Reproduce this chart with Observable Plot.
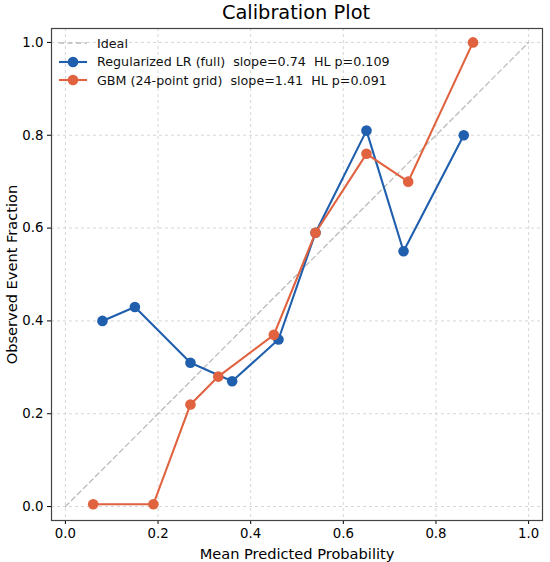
<!DOCTYPE html>
<html>
<head>
<meta charset="utf-8">
<script src="https://cdn.jsdelivr.net/npm/d3@7"></script>
<script src="https://cdn.jsdelivr.net/npm/@observablehq/plot@0.6"></script>
<style>
  html, body { margin: 0; padding: 0; background: #fff; }
  body { width: 550px; height: 562px; position: relative; font-family: "DejaVu Sans", sans-serif; overflow: hidden; }
  #title { position: absolute; left: 0; top: 1px; width: 550px; padding-left: 42px; box-sizing: border-box; text-align: center; font-size: 19.4px; color: #000; }
  #chart { position: absolute; left: 0; top: 22px; }
  #legend { position: absolute; left: 58px; top: 34px; font-size: 12.7px; color: #111; }
  .row { display: flex; align-items: center; height: 18.5px; }
  .row svg { margin-right: 9px; }
</style>
</head>
<body>
<div id="title">Calibration Plot</div>
<div id="chart"></div>
<div id="legend"></div>
<script>
const lrPred = [0.08, 0.15, 0.27, 0.36, 0.46, 0.54, 0.65, 0.73, 0.86];
const lrObs  = [0.40, 0.43, 0.31, 0.27, 0.36, 0.59, 0.81, 0.55, 0.80];
const gbmPred = [0.06, 0.19, 0.27, 0.33, 0.45, 0.54, 0.65, 0.74, 0.88];
const gbmObs  = [0.005, 0.005, 0.22, 0.28, 0.37, 0.59, 0.76, 0.70, 1.00];
const idealPts = [0, 1];
const ticks = [0, 0.2, 0.4, 0.6, 0.8, 1.0];
const seriesNames = ["Regularized LR (full)  slope=0.74  HL p=0.109", "GBM (24-point grid)  slope=1.41  HL p=0.091"];
const colors = ["#1f5fad", "#e0623f"];

const lr = lrPred.map((x, i) => ({x, y: lrObs[i]}));
const gbm = gbmPred.map((x, i) => ({x, y: gbmObs[i]}));
const ideal = idealPts.map(v => ({x: v, y: v}));

const chart = Plot.plot({
  width: 550,
  height: 540,
  marginLeft: 51,
  marginRight: 8,
  marginTop: 6,
  marginBottom: 42,
  style: {fontFamily: "DejaVu Sans, sans-serif", fontSize: "13px", color: "#000", background: "white"},
  x: {domain: [-0.03, 1.03]},
  y: {domain: [-0.03, 1.03]},
  marks: [
    Plot.gridX(ticks, {stroke: "#ccc", strokeOpacity: 1, strokeDasharray: "3,3", strokeWidth: 0.8}),
    Plot.gridY(ticks, {stroke: "#ccc", strokeOpacity: 1, strokeDasharray: "3,3", strokeWidth: 0.8}),
    Plot.line(ideal, {x: "x", y: "y", stroke: "#bbb", strokeWidth: 1.3, strokeDasharray: "5,3.5"}),
    Plot.line(lr, {x: "x", y: "y", stroke: colors[0], strokeWidth: 2.1}),
    Plot.dot(lr, {x: "x", y: "y", r: 5.3, fill: colors[0]}),
    Plot.line(gbm, {x: "x", y: "y", stroke: colors[1], strokeWidth: 2.1}),
    Plot.dot(gbm, {x: "x", y: "y", r: 5.3, fill: colors[1]}),
    Plot.axisX(ticks, {tickSize: 4, tickFormat: d3.format(".1f"), label: "Mean Predicted Probability", labelAnchor: "center", labelArrow: "none", labelOffset: 38, fontSize: 13.3, tickPadding: 4}),
    Plot.axisY(ticks, {tickSize: 4, tickFormat: d3.format(".1f"), label: "Observed Event Fraction", labelAnchor: "center", labelArrow: "none", labelOffset: 45, fontSize: 13.3, tickPadding: 4}),
    Plot.frame({stroke: "#444", strokeWidth: 1.2})
  ]
});
chart.querySelectorAll('g[aria-label="x-axis label"] text, g[aria-label="y-axis label"] text').forEach(t => t.setAttribute("font-size", "14.6"));
document.getElementById("chart").appendChild(chart);

// legend
const legend = document.getElementById("legend");
function addRow(label, color, dashed, marker) {
  const row = document.createElement("div");
  row.className = "row";
  const ns = "http://www.w3.org/2000/svg";
  const s = document.createElementNS(ns, "svg");
  s.setAttribute("width", 30); s.setAttribute("height", 12);
  const l = document.createElementNS(ns, "line");
  l.setAttribute("x1", 1); l.setAttribute("x2", 29); l.setAttribute("y1", 6); l.setAttribute("y2", 6);
  l.setAttribute("stroke", color); l.setAttribute("stroke-width", dashed ? 1.3 : 2.1);
  if (dashed) l.setAttribute("stroke-dasharray", "5,3.5");
  s.appendChild(l);
  if (marker) {
    const c = document.createElementNS(ns, "circle");
    c.setAttribute("cx", 15); c.setAttribute("cy", 6); c.setAttribute("r", 5.3); c.setAttribute("fill", color);
    s.appendChild(c);
  }
  row.appendChild(s);
  const t = document.createElement("span");
  t.textContent = label;
  t.style.whiteSpace = "pre";
  row.appendChild(t);
  legend.appendChild(row);
}
addRow("Ideal", "#bbb", true, false);
addRow(seriesNames[0], colors[0], false, true);
addRow(seriesNames[1], colors[1], false, true);
</script>
</body>
</html>
